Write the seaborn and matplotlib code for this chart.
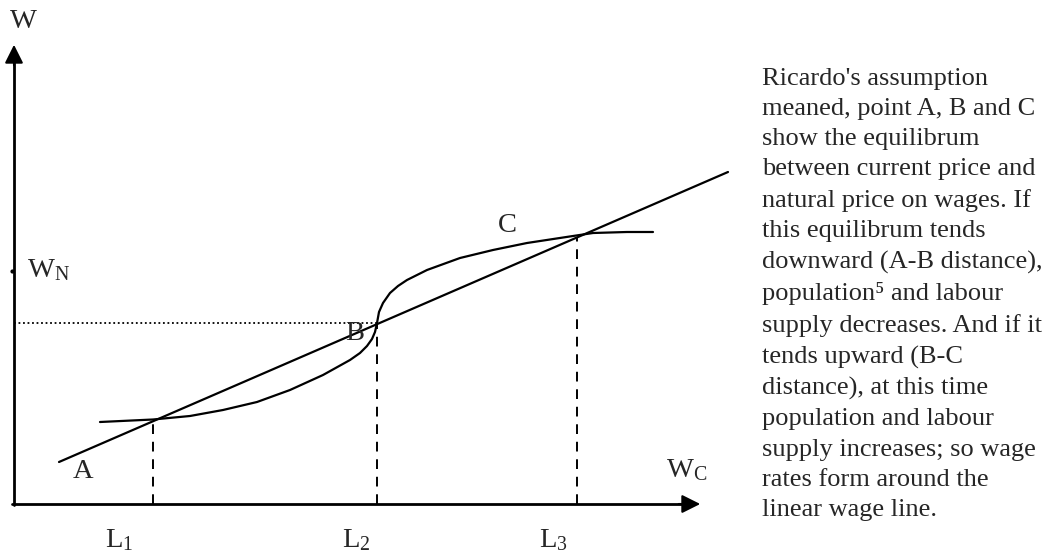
import matplotlib.pyplot as plt
import numpy as np
import pandas as pd
import seaborn as sns

# diagram units: origin at the axis corner, 1 unit ~ 1 px of the original
wage_line_x = [45, 714]
wage_line_y = [42, 332]

curve_x = [86, 139, 176, 209, 243, 276, 309, 336, 346, 353, 358, 361, 363,
           365, 369, 376, 384, 393, 413, 446, 479, 513, 559, 579, 613, 639]
curve_y = [82, 84.5, 88, 94, 102, 114, 129, 144, 151, 158, 165, 172, 181,
           192, 201, 211, 218, 224, 234, 246, 254, 261, 268, 271, 272, 272]

eq_x = [139, 363, 563]          # L1, L2, L3
eq_y = [84, 181, 267]           # A, B, C equilibria
eq_label_x = [105, 342, 539]
eq_labels = ['L$_1$', 'L$_2$', 'L$_3$']

note = ("Ricardo's assumption\nmeaned, point A, B and C\nshow the equilibrum\n"
        "between current price and\nnatural price on wages. If\nthis equilibrum tends\n"
        "downward (A-B distance),\npopulation\u2075 and labour\nsupply decreases. And if it\n"
        "tends upward (B-C\ndistance), at this time\npopulation and labour\n"
        "supply increases; so wage\nrates form around the\nlinear wage line.")

sns.set_style('white')
plt.rcParams['font.family'] = ['Liberation Serif', 'DejaVu Serif']
plt.rcParams['mathtext.fontset'] = 'custom'
plt.rcParams['mathtext.rm'] = 'Liberation Serif'
plt.rcParams['mathtext.it'] = 'Liberation Serif'

fig = plt.figure(figsize=(10.49, 5.58), dpi=100)
ax = fig.add_axes([0, 0, 1, 1])
ax.set_xlim(-14, 1035)
ax.set_ylim(-54, 504)
ax.axis('off')

# axes with arrow heads
ax.plot([0, 0], [-1, 452], color='black', lw=2.0)
ax.plot([-2, 678], [0, 0], color='black', lw=2.0)
ax.annotate('', xy=(0, 462), xytext=(0, 436),
            arrowprops=dict(arrowstyle='-|>', color='black', lw=1.5, mutation_scale=28))
ax.annotate('', xy=(689, 0), xytext=(662, 0),
            arrowprops=dict(arrowstyle='-|>', color='black', lw=1.5, mutation_scale=28))

# linear wage line and the S curve
sns.lineplot(x=wage_line_x, y=wage_line_y, color='black', lw=1.6, ax=ax)
df = pd.DataFrame({'x': curve_x, 'y': curve_y})
sns.lineplot(data=df, x='x', y='y', sort=False, estimator=None, color='black', lw=1.6, ax=ax)
ax.lines[-1].set_solid_joinstyle('round')

# dashed drops and dotted W_N line
for x, y in zip(eq_x, eq_y):
    ax.plot([x, x], [0, y], color='black', lw=1.4, ls=(0, (5, 4)))
ax.plot([0, eq_x[1]], [eq_y[1], eq_y[1]], color='black', lw=1.3, ls=(0, (1, 1.5)))
ax.plot([-2], [233], marker='o', ms=2, color='black')

fs = 20.5
ax.text(9, 483, 'W', fontsize=fs, ha='center', va='center')
ax.text(13, 234, 'W$_{\\mathrm{N}}$', fontsize=fs, ha='left', va='center')
ax.text(673, 34, 'W$_{\\mathrm{C}}$', fontsize=fs, ha='center', va='center')
ax.text(69, 32, 'A', fontsize=fs, ha='center', va='center')
ax.text(341, 171, 'B', fontsize=fs, ha='center', va='center')
ax.text(493, 279, 'C', fontsize=fs, ha='center', va='center')
for x, lab in zip(eq_label_x, eq_labels):
    ax.text(x, -36, lab, fontsize=fs, ha='center', va='center')

ax.text(748, 436, note, fontsize=19, ha='left', va='top', linespacing=1.48)

fig.savefig('out.png', dpi=100)
